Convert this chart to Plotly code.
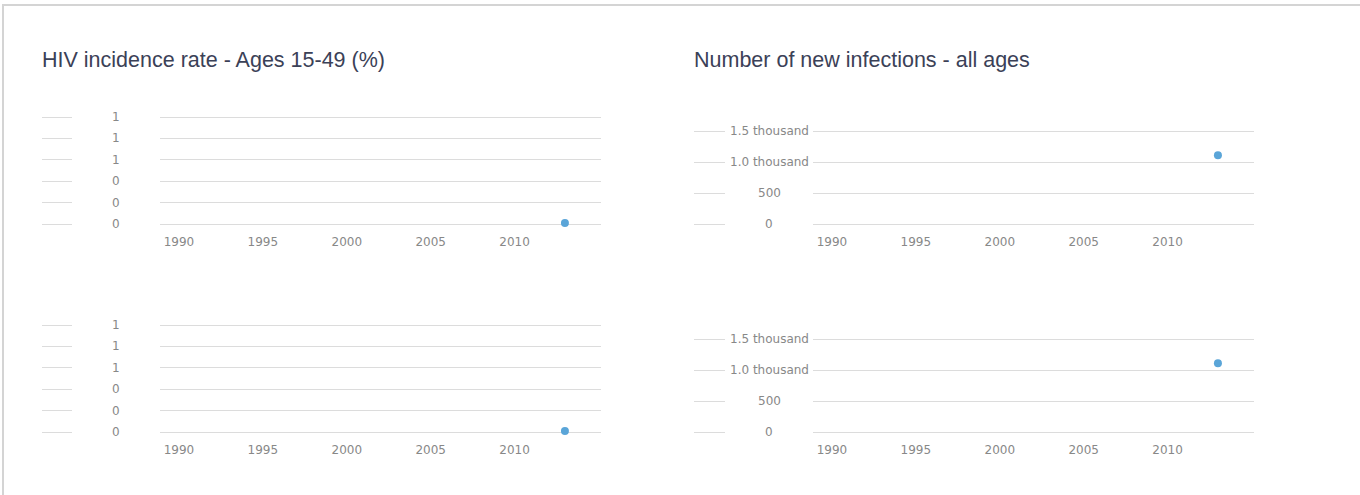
import plotly.graph_objects as go

W, H = 1360, 495

# ---- data ----
years_rate_top = [2013]
rate_top = [0.01]
years_rate_bottom = [2013]
rate_bottom = [0.01]
years_inf_top = [2013]
infections_top = [1110]
years_inf_bottom = [2013]
infections_bottom = [1110]

x_tickvals = [1990, 1995, 2000, 2005, 2010]
x_ticktext = ["1990", "1995", "2000", "2005", "2010"]
rate_tickvals = [0, 0.2, 0.4, 0.6, 0.8, 1.0]
rate_ticktext = ["0", "0", "0", "1", "1", "1"]
inf_tickvals = [0, 500, 1000, 1500]
inf_ticktext = ["0", "500", "1.0 thousand", "1.5 thousand"]

title_left = "HIV incidence rate - Ages 15-49 (%)"
title_right = "Number of new infections - all ages"

# ---- styling ----
DOT = "#5aa5d8"
GRID = "#dcdcdc"
TICK = "#888888"
TITLE = "#3b4157"
XRANGE = [1988.87, 2015.15]
EXT = 3  # px of padding around each y range so edge gridlines are drawn


def px_x(p):
    return p / W


def px_y(p):
    return 1 - p / H


fig = go.Figure()

panels = [
    (years_rate_top, rate_top, 160, 601, 117, 224, [0, 1], rate_tickvals, rate_ticktext, 42, 72, 116),
    (years_inf_top, infections_top, 813, 1254, 131, 224, [0, 1500], inf_tickvals, inf_ticktext, 694, 725, 769),
    (years_rate_bottom, rate_bottom, 160, 601, 325, 432, [0, 1], rate_tickvals, rate_ticktext, 42, 72, 116),
    (years_inf_bottom, infections_bottom, 813, 1254, 339, 432, [0, 1500], inf_tickvals, inf_ticktext, 694, 725, 769),
]

shapes = []
annotations = []
n = len(panels)
for i, (xs, ys, x0, x1, yt, yb, yr, tv, tt, s0, s1, lx) in enumerate(panels):
    k = i + 1
    g = i + 1 + n  # companion axes drawing the short grid stubs left of the labels
    xa, ya = ("x" if k == 1 else f"x{k}"), ("y" if k == 1 else f"y{k}")
    gxa, gya = f"x{g}", f"y{g}"
    fig.add_trace(go.Scatter(
        x=xs, y=ys, xaxis=xa, yaxis=ya, mode="markers",
        marker=dict(color=DOT, size=8, line=dict(width=0)),
        cliponaxis=False, showlegend=False, hoverinfo="x+y",
    ))
    # empty trace so the companion stub subplot is rendered
    fig.add_trace(go.Scatter(x=[], y=[], xaxis=gxa, yaxis=gya, mode="markers",
                             showlegend=False, hoverinfo="skip"))
    pad = (yr[1] - yr[0]) * EXT / (yb - yt)
    yrange = [yr[0] - pad, yr[1] + pad]
    ydom = [px_y(yb + EXT), px_y(yt - EXT)]
    xkey = "xaxis" if k == 1 else f"xaxis{k}"
    ykey = "yaxis" if k == 1 else f"yaxis{k}"
    fig.layout[xkey] = dict(
        domain=[px_x(x0), px_x(x1)], anchor=ya, range=XRANGE,
        tickvals=x_tickvals, ticktext=x_ticktext, showgrid=False, zeroline=False,
        showline=False, ticks="", ticklabelstandoff=6, fixedrange=True,
        tickfont=dict(family="DejaVu Sans", size=12, color=TICK),
    )
    fig.layout[ykey] = dict(
        domain=ydom, anchor=xa, range=yrange,
        tickvals=tv, showgrid=True, gridcolor=GRID, gridwidth=1, zeroline=False,
        showline=False, ticks="", showticklabels=False, fixedrange=True,
    )
    fig.layout[f"xaxis{g}"] = dict(
        domain=[px_x(s0), px_x(s1)], anchor=gya, range=[0, 1], fixedrange=True,
        showgrid=False, zeroline=False, showline=False, showticklabels=False, ticks="",
    )
    fig.layout[f"yaxis{g}"] = dict(
        domain=ydom, anchor=gxa, range=yrange,
        tickvals=tv, showgrid=True, gridcolor=GRID, gridwidth=1, zeroline=False,
        showline=False, ticks="", showticklabels=False, fixedrange=True,
    )
    for v, t in zip(tv, tt):
        annotations.append(dict(xref="paper", yref=ya, x=px_x(lx), y=v, text=t,
                                showarrow=False, xanchor="center", yanchor="middle",
                                font=dict(family="DejaVu Sans", size=12, color=TICK)))

# titles
annotations.append(dict(xref="paper", yref="paper", x=px_x(40), y=px_y(60), text=title_left,
                        showarrow=False, xanchor="left", yanchor="middle",
                        font=dict(family="Liberation Sans, Arial", size=21.5, color=TITLE)))
annotations.append(dict(xref="paper", yref="paper", x=px_x(692), y=px_y(60), text=title_right,
                        showarrow=False, xanchor="left", yanchor="middle",
                        font=dict(family="Liberation Sans, Arial", size=21.5, color=TITLE)))

# card border (top and left edges visible)
shapes.append(dict(type="line", xref="paper", yref="paper", x0=px_x(2), x1=1.0,
                   y0=px_y(5), y1=px_y(5), line=dict(color="#d4d4d4", width=2)))
shapes.append(dict(type="line", xref="paper", yref="paper", x0=px_x(3), x1=px_x(3),
                   y0=px_y(4), y1=0.0, line=dict(color="#d4d4d4", width=2)))

fig.update_layout(
    width=W, height=H, margin=dict(l=0, r=0, t=0, b=0),
    paper_bgcolor="white", plot_bgcolor="white",
    shapes=shapes, annotations=annotations, showlegend=False,
)

fig.write_html(
    "out.html",
    config={"displayModeBar": False},
    post_script="document.body.style.margin='0';document.body.style.overflow='hidden';",
)
